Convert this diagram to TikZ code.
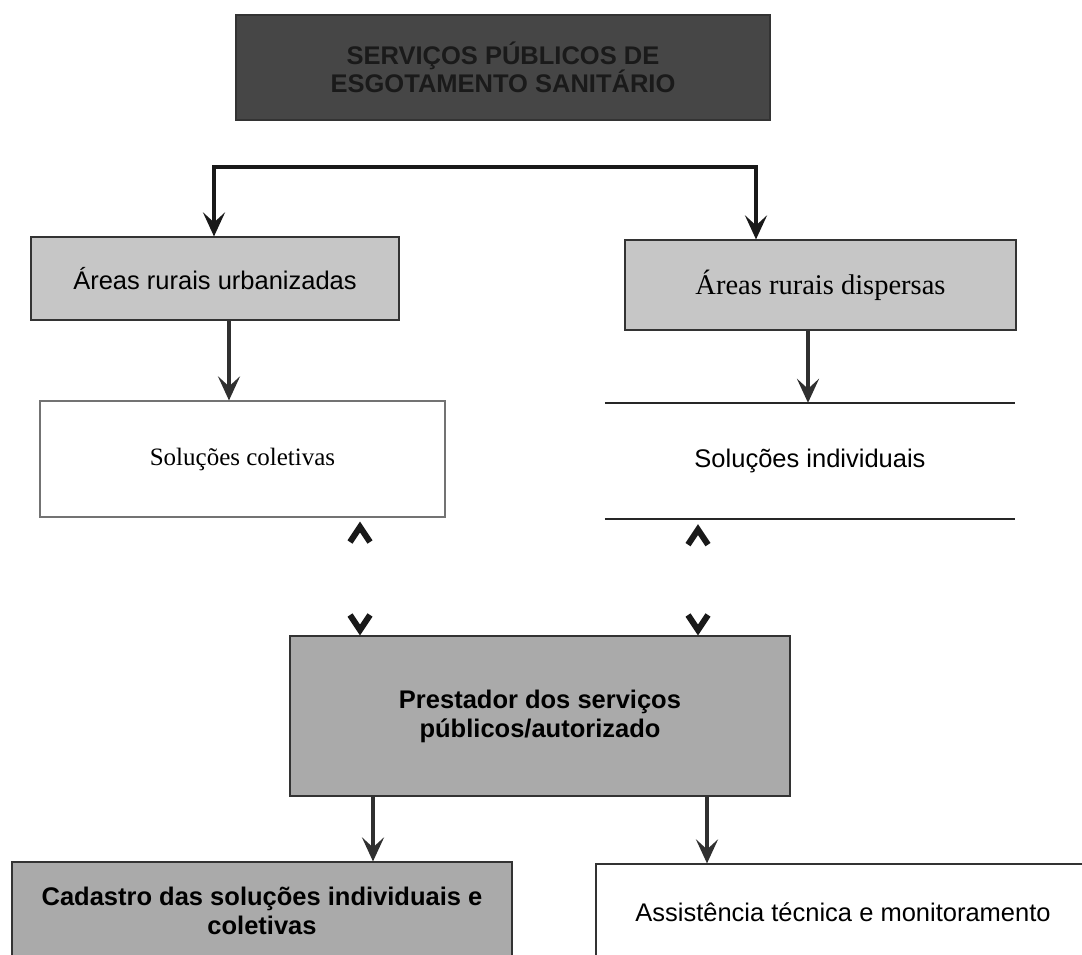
\documentclass[tikz,border=0pt]{standalone}
\usepackage{fontspec}
\setmainfont{Liberation Sans}
\newfontfamily\serifit{Liberation Serif}
\usetikzlibrary{arrows.meta}
\definecolor{titlefill}{HTML}{464646}
\definecolor{titletext}{HTML}{1A1A1A}
\definecolor{lightbox}{HTML}{C6C6C6}
\definecolor{midbox}{HTML}{AAAAAA}
\definecolor{arrcol}{HTML}{303030}
\tikzset{
  box/.style={draw=black!80, line width=1.2pt, align=center, inner sep=0pt},
  sanslbl/.style={font=\fontsize{25.5}{29}\selectfont},
  boldlbl/.style={font=\fontsize{25.5}{29}\selectfont\bfseries},
  seriflbl/.style={font=\fontsize{28.5}{32}\selectfont\serifit},
  bigtip/.tip={Stealth[length=24pt,width=22pt,inset=10pt]},
  chevtip/.tip={Straight Barb[length=15pt,width=20pt,line width=6pt,color=black!90]},
  arrline/.style={draw=arrcol, line width=4pt, -{bigtip}},
  chev/.style={draw=white, line width=1pt, {chevtip}-{chevtip}},
}
\begin{document}
\begin{tikzpicture}[x=1pt,y=-1pt]
\useasboundingbox[fill=white] (0,0) rectangle (1082,954);

% boxes
\node[box, fill=titlefill, text=titletext, minimum width=534pt, minimum height=105pt,
      font=\fontsize{25.5}{28}\selectfont\bfseries] (title) at (503,67.5)
      {SERVIÇOS PÚBLICOS DE\\ESGOTAMENTO SANITÁRIO};
\node[box, fill=lightbox, sanslbl, minimum width=368pt, minimum height=83pt] (urb) at (215,278.5)
      {Áreas rurais urbanizadas};
\node[box, fill=lightbox, seriflbl, minimum width=391pt, minimum height=90pt] (disp) at (820.5,285)
      {Áreas rurais dispersas};
\node[box, draw=black!55, fill=white, font=\fontsize{25}{29}\selectfont\serifit,
      minimum width=405pt, minimum height=116pt] (colet) at (242.5,459)
      {Soluções coletivas};
\node[inner sep=0pt, sanslbl, minimum width=410pt, minimum height=116pt] (indiv) at (810,461)
      {Soluções individuais};
\draw[black!85, line width=1.5pt] (indiv.north west) -- (indiv.north east);
\draw[black!85, line width=1.5pt] (indiv.south west) -- (indiv.south east);
\node[box, fill=midbox, boldlbl, minimum width=500pt, minimum height=160pt] (prest) at (540,716)
      {Prestador dos serviços\\públicos/autorizado};
\node[box, fill=midbox, boldlbl, minimum width=500pt, minimum height=98pt] (cad) at (262,911)
      {Cadastro das soluções individuais e\\coletivas};
\node[box, fill=white, sanslbl, minimum width=494pt, minimum height=96pt] (assist) at (843,912)
      {Assistência técnica e monitoramento};

% connector coordinates
\coordinate (hl) at (214,167);
\coordinate (hr) at (756,167);
\coordinate (xa) at (229,0);
\coordinate (xb) at (808,0);
\coordinate (xc) at (360,0);
\coordinate (xd) at (698,0);
\coordinate (xe) at (373,0);
\coordinate (xf) at (707,0);

% top split
\draw[draw=black!90, line width=4.5pt, line join=miter, {bigtip}-{bigtip}]
      (hl |- urb.north) -- (hl) -- (hr) -- (hr |- disp.north);

% vertical arrows
\draw[arrline] (urb.south -| xa) -- (colet.north -| xa);
\draw[arrline] (disp.south -| xb) -- (indiv.north -| xb);
\draw[chev, shorten <=4pt] (colet.south -| xc) -- (prest.north -| xc);
\draw[chev, shorten <=5pt] (indiv.south -| xd) -- (prest.north -| xd);
\draw[arrline] (prest.south -| xe) -- (cad.north -| xe);
\draw[arrline] (prest.south -| xf) -- (assist.north -| xf);
\end{tikzpicture}
\end{document}
